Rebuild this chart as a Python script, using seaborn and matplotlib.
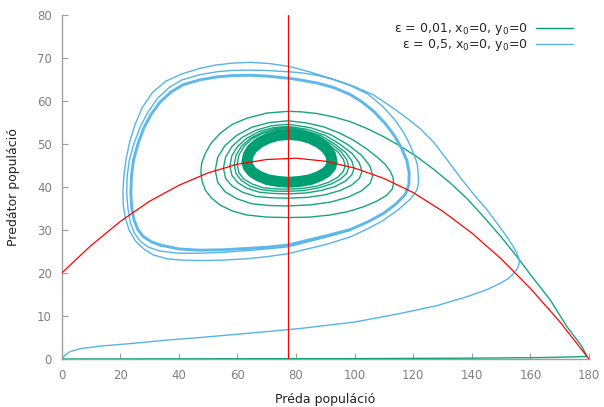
import matplotlib
matplotlib.use("Agg")
import matplotlib.pyplot as plt
from matplotlib.lines import Line2D
import pandas as pd
import seaborn as sns

# ---------------------------------------------------------------- data
# Trajectories in the (prey, predator) phase plane, as (x, y) points.

# epsilon = 0.01: along the prey axis, back up along the nullcline, then
# a slow inward spiral onto a small cycle
green_approach = [
    (0, 0), (20, 0.02), (60, 0.05), (100, 0.1), (140, 0.2), (165, 0.35),
    (175, 0.5), (179.3, 0.6), (177.5, 3.0), (172.5, 7.5), (166.8, 13.7),
    (160.5, 19.2), (155.4, 23.8), (150, 28.4), (144, 33.1), (138.5, 37.2),
    (132.7, 40.9), (127, 44.1), (121.3, 47.0), (115.6, 49.5), (109.9, 51.7),
    (104.2, 53.6), (98.5, 55.2), (92.8, 56.3), (87.1, 57.1), (81.4, 57.5),
]
green_spiral = [
    (77.4, 57.6), (70, 57.2), (63.2, 56.0), (58, 54.5), (54.1, 52.5), (51, 50.2),
    (49, 47.8), (47.8, 45.7), (47.5, 43.6), (47.9, 41.4), (49, 39.3), (51.2, 37.4),
    (54.1, 35.8), (58.3, 34.4), (63.2, 33.5), (70, 33.0), (77.4, 32.9), (84.6, 33.0),
    (91.7, 33.5), (97.8, 34.3), (103, 35.4), (107.5, 36.7), (111, 38.1), (112.8, 39.5),
    (113.3, 40.9), (113.1, 42.2), (112.2, 43.6), (110.4, 45.3), (107.6, 47.0),
    (104, 48.9), (99.6, 50.9), (94.7, 52.6), (89.4, 54.0), (83.5, 54.9),
    (77.4, 55.4), (70.9, 55.0), (64.9, 53.9), (59.7, 52.0), (55.75, 49.65),
    (53.25, 46.9), (52.4, 43.9), (53.25, 41.1), (55.75, 38.9), (59.7, 37.3),
    (64.9, 36.1), (70.9, 35.7), (77.4, 35.6), (84.9, 35.85), (91.8, 36.5),
    (97.8, 37.65), (102.3, 39.1), (105.2, 40.8), (106.2, 42.6), (105.2, 44.9),
    (102.3, 47.4), (97.8, 49.8), (91.8, 52.2), (84.9, 53.8),
    (77.4, 54.6), (71.65, 54.25), (66.3, 53.2), (61.7, 51.6), (58.2, 49.5),
    (55.95, 47.0), (55.2, 44.4), (55.95, 42.0), (58.2, 40.2), (61.7, 38.8),
    (66.3, 37.8), (71.65, 37.5), (77.4, 37.4), (83.9, 37.6), (90.0, 38.2),
    (95.1, 39.2), (99.1, 40.5), (101.6, 42.0), (102.5, 43.6), (101.6, 45.6),
    (99.1, 47.8), (95.1, 49.9), (90.0, 52.0), (83.9, 53.4),
    (77.4, 54.1), (72.2, 53.8), (67.4, 52.9), (63.3, 51.4), (60.1, 49.5),
    (58.1, 47.3), (57.4, 44.9), (58.1, 42.7), (60.1, 41.0), (63.3, 39.7),
    (67.4, 38.8), (72.2, 38.5), (77.4, 38.4), (83.2, 38.6), (88.6, 39.2),
    (93.2, 40.1), (96.8, 41.35), (99.0, 42.8), (99.8, 44.3), (99.0, 46.1),
    (96.8, 48.1), (93.2, 50.0), (88.6, 51.9), (83.2, 53.1),
    (77.4, 53.8), (72.6, 53.5), (68.15, 52.6), (64.3, 51.3), (61.4, 49.5),
    (59.5, 47.4), (58.9, 45.2), (59.5, 43.1), (61.4, 41.5), (64.3, 40.2),
    (68.15, 39.4), (72.6, 39.06), (77.4, 39.0), (82.7, 39.2), (87.7, 39.8),
    (92.0, 40.7), (95.2, 41.85), (97.3, 43.2), (98.0, 44.7), (97.3, 46.4),
    (95.2, 48.3), (92.0, 50.0), (87.7, 51.8), (82.7, 53.0),
    (77.4, 53.6), (72.9, 53.3), (68.65, 52.5), (65.0, 51.2), (62.25, 49.45),
    (60.5, 47.45), (59.9, 45.3), (60.5, 43.3), (62.25, 41.8), (65.0, 40.7),
    (68.65, 39.85), (72.9, 39.56), (77.4, 39.5), (82.4, 39.7), (87.1, 40.2),
    (91.1, 41.1), (94.2, 42.25), (96.1, 43.6), (96.8, 45.0), (96.1, 46.5),
    (94.2, 48.2), (91.1, 49.8), (87.1, 51.4), (82.4, 52.4), (77.4, 53.0),
]
# the densely wound final cycle of the small-epsilon run
green_core = [
    (77.4, 52.2), (73.7, 52.0), (70.3, 51.3), (67.4, 50.3), (65.1, 49.0),
    (63.7, 47.5), (63.2, 45.8), (63.7, 44.6), (65.1, 43.45), (67.4, 42.5),
    (70.3, 41.7), (73.7, 41.3), (77.4, 41.1), (81.3, 41.3), (84.85, 41.7),
    (87.9, 42.5), (90.3, 43.45), (91.8, 44.6), (92.3, 45.8), (91.8, 47.5),
    (90.3, 49.0), (87.9, 50.3), (84.85, 51.3), (81.3, 52.0), (77.4, 52.2),
]

# epsilon = 0.5: long excursion, then outer loops settling onto a large cycle
blue_path = [
    (0, 0), (1.1, 0.9), (2.8, 1.7), (6.3, 2.4), (13.1, 3.0), (24.5, 3.65),
    (35.9, 4.4), (47.2, 5.0), (64, 6.0), (81.4, 7.1), (100, 8.6), (115.6, 10.6),
    (128, 12.4), (138.4, 14.5), (145, 16.1), (149.7, 17.6), (152.6, 18.8),
    (154.4, 20.0), (155.6, 21.1), (156.2, 22.3), (156.1, 23.3), (155.4, 24.6),
    (154, 26.3), (152, 28.4), (149, 31.2), (145.2, 34.7), (141, 38.0),
    (136.3, 42.0), (132.7, 45.3), (127, 50.4), (122.3, 53.6), (117.9, 56.0),
    (112, 58.9), (106.5, 61.4), (99, 63.6), (91.6, 65.3), (85, 66.7), (78, 68.0),
    (71, 68.7), (64.3, 69.0), (58, 68.8), (52, 68.3), (47.2, 67.6), (41, 66.3),
    (35.5, 64.6), (31, 62.0), (27.5, 58.5), (25, 54.5), (23.2, 50.5),
    (21.9, 46.3), (21.2, 42.5), (20.9, 39.0), (21.0, 35.8), (21.7, 32.8),
    (23, 30.0), (25.2, 27.4), (28.2, 25.5), (31.3, 24.2), (36, 23.3), (41, 23.0),
    (47.1, 22.9), (55, 23.0), (63, 23.3), (70, 23.8), (77.4, 24.5), (81.4, 25.2),
    (90, 26.6), (98.5, 28.4), (104.5, 30.3), (109.9, 32.3), (115, 34.8),
    (119, 37.2), (121.2, 39.2), (121.8, 40.9), (121.7, 43.3), (121.3, 45.5),
    (120.3, 47.5), (119, 49.6), (116.8, 52.6), (113.5, 55.8), (109.5, 58.8),
    (104.5, 61.6), (98.5, 63.6), (92.8, 65.0), (87.1, 66.0), (81.4, 66.6),
    (77.4, 66.8), (70, 67.1), (64, 67.2), (58, 67.1), (52.9, 66.8), (47, 66.1),
    (41, 64.9), (36.8, 63.2), (32.8, 60.7), (29.5, 57.5), (26.8, 54.0),
    (24.6, 50.0), (23.0, 46.0), (22.3, 42.2), (22.2, 38.5), (22.6, 35.0),
    (23.4, 31.8), (24.8, 29.3), (26.8, 27.4), (29.6, 26.0), (33.6, 25.1),
    (40, 24.6), (47.1, 24.6), (55, 24.8), (63, 25.2), (70, 25.6), (77.4, 26.1),
    (81.4, 26.8), (90, 28.3), (98.5, 29.9),
]
blue_cycle = [
    (33.6, 26.5), (40, 25.6), (47.1, 25.3), (55, 25.4), (63, 25.7), (70, 26.0),
    (77.4, 26.5), (81.4, 27.2), (90, 28.6), (98.5, 30.1), (104.5, 31.9),
    (109.9, 33.9), (114, 36.0), (117.3, 38.3), (118.5, 40.6), (118.6, 43.3),
    (117.8, 46.2), (116.0, 49.0), (113.6, 51.9), (110.4, 54.8), (106.5, 57.6),
    (102.5, 59.8), (98.5, 61.5), (93, 63.1), (87.1, 64.2), (81.4, 64.9),
    (77.4, 65.3), (70, 65.8), (64, 66.0), (58, 65.9), (52.9, 65.6), (47, 64.9),
    (41.5, 63.8), (37.5, 62.2), (33.6, 59.8), (30.5, 56.9), (28, 53.7),
    (26.1, 50.2), (24.5, 46.3), (23.8, 42.5), (23.6, 38.5), (23.9, 35.2),
    (24.7, 32.3), (26.0, 30.1), (27.8, 28.5), (30.5, 27.3), (33.6, 26.5),
]

# nullclines: prey isocline (parabola) and predator isocline (vertical)
prey_null_x = [0, 10, 20, 30, 40, 50, 60, 70, 80, 90, 100, 110, 120, 130,
               140, 150, 160, 170, 180]
prey_null_y = [20.0, 26.4, 32.0, 36.7, 40.4, 43.3, 45.3, 46.4, 46.7, 46.0,
               44.4, 42.0, 38.7, 34.4, 29.3, 23.3, 16.4, 8.7, 0.0]
predator_null_x = 77.4

legend_labels = ["ε = 0,01, x$_0$=0, y$_0$=0", "ε = 0,5, x$_0$=0, y$_0$=0"]
x_ticks = list(range(0, 181, 20))
y_ticks = list(range(0, 81, 10))

# ---------------------------------------------------------------- style
GREEN = "#009E73"
BLUE = "#56B4E9"
RED = "#FF0000"
AXIS_GREY = "#a0a0a0"
LABEL_GREY = "#808080"

sns.set_theme(style="white")
plt.rcParams["font.family"] = ["DejaVu Sans"]
plt.rcParams["mathtext.fontset"] = "dejavusans"

fig = plt.figure(figsize=(6.04, 4.07), dpi=100)
ax = fig.add_axes([0.1022, 0.1179, 0.8730, 0.8452])


def trace(points, color, lw, zorder, alpha=1.0):
    df = pd.DataFrame(points, columns=["prey", "predator"])
    sns.lineplot(data=df, x="prey", y="predator", sort=False, estimator=None,
                 color=color, lw=lw, alpha=alpha, zorder=zorder, ax=ax,
                 solid_joinstyle="round", solid_capstyle="round")


# the small-epsilon run is one continuous curve: approach, then spiral
trace(green_approach + green_spiral, GREEN, 1.0, 3, alpha=0.92)
trace(green_core, GREEN, 7.9, 3)
trace(blue_path, BLUE, 1.0, 4)
trace(blue_cycle, BLUE, 2.1, 4, alpha=0.95)

sns.lineplot(x=prey_null_x, y=prey_null_y, color=RED, lw=0.9, ax=ax, zorder=5,
             sort=False, estimator=None)
ax.axvline(predator_null_x, color=RED, lw=0.9, zorder=5)

ax.set_xlim(0, 180)
ax.set_ylim(0, 80)
ax.set_xticks(x_ticks)
ax.set_yticks(y_ticks)
ax.set_xlabel("Préda populáció", fontsize=9, color="#222222", labelpad=8)
ax.set_ylabel("Predátor populáció", fontsize=9, color="#222222", labelpad=12)

for side in ("top", "right"):
    ax.spines[side].set_visible(False)
for side in ("left", "bottom"):
    ax.spines[side].set_color(AXIS_GREY)
    ax.spines[side].set_linewidth(1.0)
ax.tick_params(direction="in", length=4, width=0.8, color=AXIS_GREY,
               labelcolor=LABEL_GREY, labelsize=8.5, pad=7,
               bottom=True, left=True, top=False, right=False)

handles = [Line2D([], [], color=GREEN, lw=1.0), Line2D([], [], color=BLUE, lw=1.0)]
fig.legend(handles, legend_labels, loc="upper right",
           bbox_to_anchor=(573 / 604, 1 - 21 / 407), frameon=False,
           markerfirst=False, fontsize=9, handlelength=3.0, handletextpad=0.6,
           labelspacing=0.0, borderpad=0, borderaxespad=0)

fig.savefig("out.png", dpi=100)
